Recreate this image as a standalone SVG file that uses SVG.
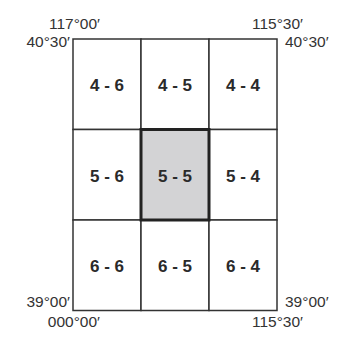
<svg xmlns="http://www.w3.org/2000/svg" width="337" height="347" viewBox="0 0 337 347">
<style>
.cell{fill:#fff;stroke:#333;stroke-width:1.5}
.hl{fill:#d3d3d5;stroke:#222;stroke-width:3}
.lbl{font-family:"Liberation Sans",Arial,sans-serif;font-weight:bold;font-size:17px;fill:#2a2a2a;text-anchor:middle}
.coord{font-family:"Liberation Sans",Arial,sans-serif;font-size:15.5px;fill:#333}
</style>
<rect width="337" height="347" fill="#fff"/>
<g id="n46"><rect class="cell" x="73" y="39" width="68" height="90.5"/><text class="lbl" x="107" y="91">4 - 6</text></g>
<g id="n45"><rect class="cell" x="141" y="39" width="68" height="90.5"/><text class="lbl" x="175" y="91">4 - 5</text></g>
<g id="n44"><rect class="cell" x="209" y="39" width="68" height="90.5"/><text class="lbl" x="243" y="91">4 - 4</text></g>
<g id="n56"><rect class="cell" x="73" y="129.5" width="68" height="90.5"/><text class="lbl" x="107" y="181.5">5 - 6</text></g>
<g id="n54"><rect class="cell" x="209" y="129.5" width="68" height="90.5"/><text class="lbl" x="243" y="181.5">5 - 4</text></g>
<g id="n66"><rect class="cell" x="73" y="220" width="68" height="90.5"/><text class="lbl" x="107" y="272">6 - 6</text></g>
<g id="n65"><rect class="cell" x="141" y="220" width="68" height="90.5"/><text class="lbl" x="175" y="272">6 - 5</text></g>
<g id="n64"><rect class="cell" x="209" y="220" width="68" height="90.5"/><text class="lbl" x="243" y="272">6 - 4</text></g>
<g id="n55"><rect class="hl" x="141" y="129.5" width="68" height="90.5"/><text class="lbl" x="175" y="181.5">5 - 5</text></g>
<g id="connectors"></g>
<g id="coords">
<text class="coord" x="100" y="29" text-anchor="end">117°00′</text>
<text class="coord" x="70" y="47" text-anchor="end">40°30′</text>
<text class="coord" x="303" y="29" text-anchor="end">115°30′</text>
<text class="coord" x="285" y="47">40°30′</text>
<text class="coord" x="70" y="307" text-anchor="end">39°00′</text>
<text class="coord" x="100" y="327" text-anchor="end">000°00′</text>
<text class="coord" x="285" y="307">39°00′</text>
<text class="coord" x="303" y="327" text-anchor="end">115°30′</text>
</g>
</svg>
